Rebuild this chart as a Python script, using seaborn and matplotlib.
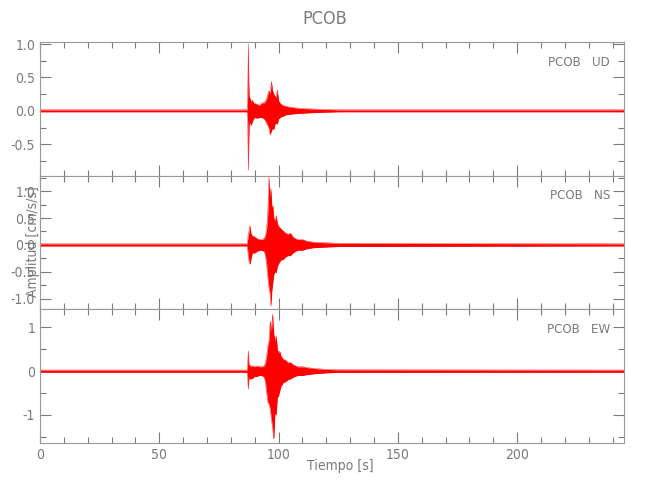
import matplotlib
matplotlib.use("Agg")
import matplotlib.pyplot as plt
import pandas as pd
import seaborn as sns
from matplotlib.ticker import MultipleLocator, FormatStrFormatter

# envelope of each trace (upper / lower peak amplitude)
ud_t = [0, 86.8, 87.1, 87.3, 87.5, 87.7, 88, 88.5, 89, 89.5, 90, 91, 92, 93, 94, 95, 95.5,
        96, 96.5, 97, 97.5, 98, 98.5, 99, 99.5, 100, 101, 102, 103, 104, 106, 108, 110,
        113, 116, 120, 125, 245]
ud_hi = [0.015, 0.015, 0.25, 1.00, 0.45, 0.22, 0.19, 0.14, 0.16, 0.12, 0.11, 0.10, 0.08,
         0.12, 0.12, 0.18, 0.25, 0.30, 0.26, 0.44, 0.30, 0.25, 0.22, 0.20, 0.31, 0.15, 0.10,
         0.08, 0.07, 0.06, 0.05, 0.04, 0.035, 0.03, 0.025, 0.02, 0.015, 0.015]
ud_lo = [-0.015, -0.015, -0.2, -0.89, -0.5, -0.2, -0.17, -0.22, -0.16, -0.12, -0.1, -0.11,
         -0.1, -0.1, -0.12, -0.18, -0.22, -0.26, -0.36, -0.30, -0.26, -0.28, -0.2, -0.18,
         -0.2, -0.12, -0.09, -0.08, -0.06, -0.055, -0.045, -0.04, -0.035, -0.03, -0.025,
         -0.02, -0.015, -0.015]

ns_t = [0, 86.8, 87.2, 87.6, 88, 88.5, 89, 90, 91, 92, 93, 94, 94.5, 95, 95.5, 96, 96.4,
        96.8, 97.2, 97.6, 98, 98.5, 99, 99.5, 100, 101, 102, 103, 104, 105, 106, 107, 108,
        110, 112, 115, 120, 125, 245]
ns_hi = [0.02, 0.02, 0.15, 0.25, 0.36, 0.2, 0.17, 0.15, 0.12, 0.1, 0.1, 0.12, 0.18, 0.3,
         0.6, 1.26, 0.9, 1.05, 0.7, 0.73, 0.5, 0.45, 0.55, 0.4, 0.35, 0.3, 0.26, 0.22, 0.2,
         0.22, 0.15, 0.12, 0.1, 0.1, 0.07, 0.05, 0.04, 0.03, 0.02]
ns_lo = [-0.02, -0.02, -0.15, -0.3, -0.36, -0.25, -0.15, -0.15, -0.12, -0.1, -0.1, -0.12,
         -0.2, -0.35, -0.6, -0.8, -0.9, -1.14, -0.85, -0.7, -0.55, -0.5, -0.52, -0.4, -0.35,
         -0.28, -0.27, -0.22, -0.2, -0.2, -0.15, -0.12, -0.1, -0.1, -0.07, -0.05, -0.04,
         -0.03, -0.02]

ew_t = [0, 86.8, 87.1, 87.3, 87.6, 88, 89, 90, 91, 92, 93, 94, 94.5, 95, 95.5, 96, 96.5,
        97, 97.5, 98, 98.5, 99, 99.5, 100, 100.5, 101, 102, 103, 104, 105, 106, 108, 110,
        112, 115, 120, 125, 245]
ew_hi = [0.025, 0.025, 0.2, 0.46, 0.15, 0.12, 0.12, 0.1, 0.12, 0.1, 0.1, 0.12, 0.2, 0.34,
         0.57, 0.7, 1.14, 0.9, 1.3, 0.85, 0.7, 0.8, 0.5, 0.42, 0.45, 0.35, 0.27, 0.25, 0.19,
         0.2, 0.15, 0.1, 0.1, 0.08, 0.06, 0.04, 0.03, 0.025]
ew_lo = [-0.025, -0.025, -0.2, -0.41, -0.15, -0.18, -0.17, -0.12, -0.12, -0.1, -0.1, -0.14,
         -0.25, -0.48, -0.7, -0.75, -0.86, -1.1, -1.3, -1.55, -0.95, -1.0, -0.6, -0.56,
         -0.45, -0.35, -0.26, -0.24, -0.19, -0.18, -0.14, -0.1, -0.1, -0.08, -0.06, -0.04,
         -0.03, -0.025]

station = "PCOB"
components = ["UD", "NS", "EW"]
y_limits = [(-0.97, 1.03), (-1.2, 1.29), (-1.64, 1.41)]
y_major = [0.5, 0.5, 1.0]
y_minor = [0.25, 0.25, 0.5]
y_fmt = ["%.1f", "%.1f", "%.0f"]

sns.set_style("ticks")
plt.rcParams["font.family"] = ["DejaVu Sans"]
plt.rcParams["font.stretch"] = "condensed"
plt.rcParams["font.weight"] = "light"
GREY = "#7a7a7a"

fig, axes = plt.subplots(3, 1, figsize=(6.5, 5), dpi=100, sharex=True)
fig.subplots_adjust(left=0.0615, right=0.96, top=0.916, bottom=0.114, hspace=0)

traces = [(ud_t, ud_hi, ud_lo), (ns_t, ns_hi, ns_lo), (ew_t, ew_hi, ew_lo)]
for i, (ax, comp, (t, hi, lo)) in enumerate(zip(axes, components, traces)):
    df = pd.DataFrame({"t": t, "hi": hi, "lo": lo})
    ax.fill_between(df["t"], df["lo"], df["hi"], color="red", lw=0)
    sns.lineplot(data=df, x="t", y="hi", ax=ax, color="red", lw=0.3)
    sns.lineplot(data=df, x="t", y="lo", ax=ax, color="red", lw=0.3)

    ax.set_xlim(0, 244.8)
    ax.set_ylim(*y_limits[i])
    ax.xaxis.set_major_locator(MultipleLocator(50))
    ax.xaxis.set_minor_locator(MultipleLocator(10))
    ax.yaxis.set_major_locator(MultipleLocator(y_major[i]))
    ax.yaxis.set_minor_locator(MultipleLocator(y_minor[i]))
    ax.yaxis.set_major_formatter(FormatStrFormatter(y_fmt[i]))
    ax.tick_params(which="both", direction="in", top=True, right=True,
                   colors=GREY, labelcolor=GREY, labelsize=10, width=0.8)
    ax.tick_params(which="major", length=8)
    ax.tick_params(which="minor", length=4)
    for sp in ax.spines.values():
        sp.set_color("#999999")
        sp.set_linewidth(0.8)
    ax.set_xlabel("")
    ax.set_ylabel("")
    ax.text(0.976, 0.85, f"{station}   {comp}", transform=ax.transAxes,
            ha="right", va="center", color=GREY, fontsize=9.5)

fig.text(0.5, 0.962, station, ha="center", va="center", color=GREY, fontsize=13)
fig.text(0.051, 0.516, "Amplitud [cm/s/s]", rotation=90, ha="center", va="center",
         color=GREY, fontsize=10)
fig.text(0.523, 0.068, "Tiempo [s]", ha="center", va="center", color=GREY, fontsize=10)

fig.savefig("out.png", dpi=100)
